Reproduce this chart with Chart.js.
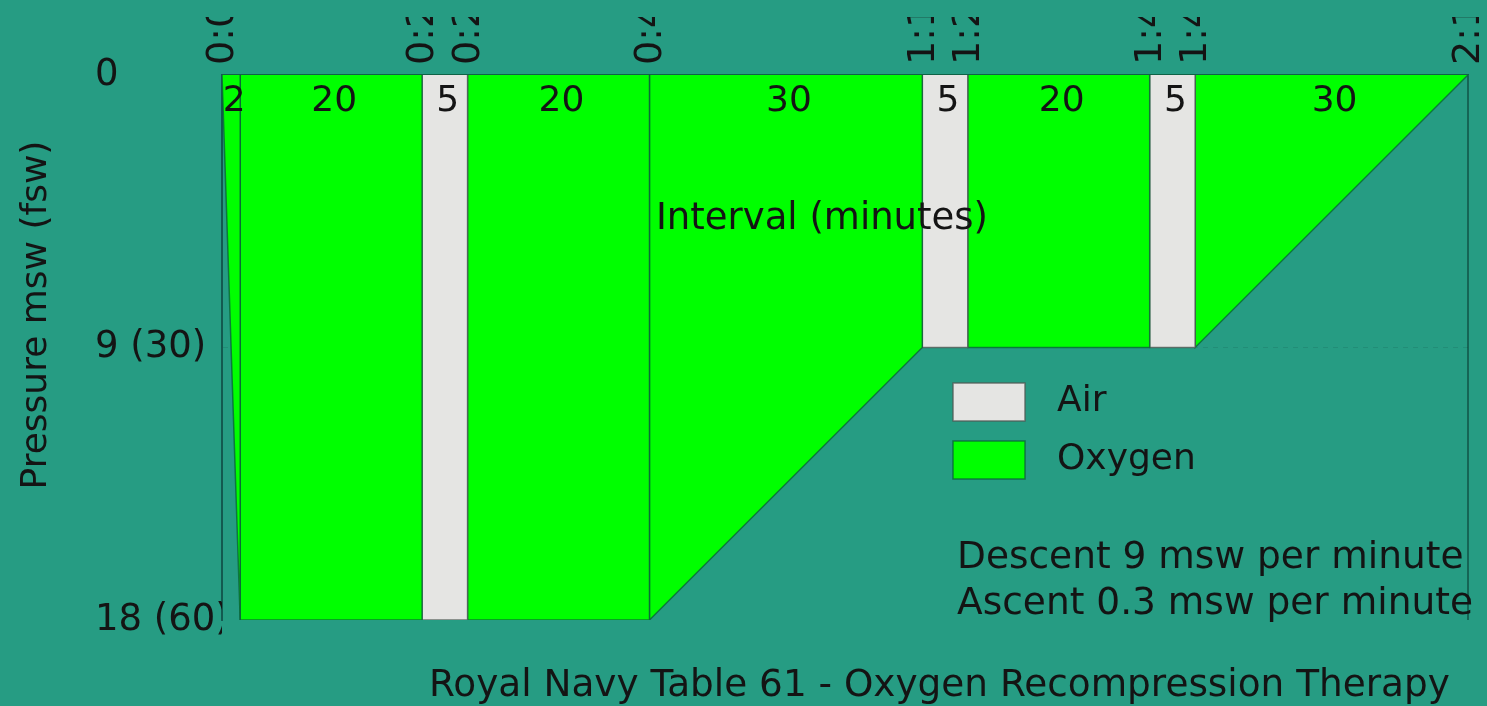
<!DOCTYPE html>
<html><head><meta charset="utf-8">
<script src="https://cdn.jsdelivr.net/npm/chart.js@4.4.1/dist/chart.umd.min.js"></script>
<style>
html,body{margin:0;padding:0;background:#269c83;overflow:hidden}
#wrap{position:absolute;left:0;top:0;width:1487px;height:706px;clip-path:inset(17px 0 0 0)}
canvas{display:block}
</style></head><body>
<div id="wrap"><canvas id="c" width="1487" height="706"></canvas></div>
<script>
// ---- data ----
const segmentStart = [0, 2, 22, 27, 47, 77, 82, 102, 107];
const segmentEnd   = [2, 22, 27, 47, 77, 82, 102, 107, 137];
const depthStart   = [0, 18, 18, 18, 18, 9, 9, 9, 9];
const depthEnd     = [18, 18, 18, 18, 9, 9, 9, 9, 0];
const segmentGas   = ['Oxygen','Oxygen','Air','Oxygen','Oxygen','Air','Oxygen','Air','Oxygen'];
const durationLabels = ['2','20','5','20','30','5','20','5','30'];
const timeTicks = [0, 22, 27, 47, 77, 82, 102, 107, 137];
const timeTickLabels = ['0:00','0:22','0:27','0:47','1:17','1:22','1:42','1:47','2:17'];
const depthTicks = [0, 9, 18];
const depthTickLabels = ['0', '9 (30)', '18 (60)'];
const gasNames = ['Air', 'Oxygen'];
const notes = ['Descent 9 msw per minute', 'Ascent 0.3 msw per minute'];
const yTitle = 'Pressure msw (fsw)';
const xTitle = 'Interval (minutes)';
const chartTitle = 'Royal Navy Table 61 - Oxygen Recompression Therapy';

// ---- styles ----
const FONT = 'DejaVu Sans';
const TXT = '#141414';
const gasFill = {Air: '#e5e5e3', Oxygen: '#00ff00'};
const gasBorder = {Air: 'rgba(80,90,85,0.8)', Oxygen: 'rgba(10,95,55,0.75)'};
const TICK_SIZE = 38;

const datasets = segmentStart.map((s, i) => ({
  label: segmentGas[i],
  data: [
    {x: s, y: 0},
    {x: s, y: depthStart[i]},
    {x: segmentEnd[i], y: depthEnd[i]},
    {x: segmentEnd[i], y: 0}
  ],
  fill: 'origin',
  backgroundColor: gasFill[segmentGas[i]],
  borderColor: gasBorder[segmentGas[i]],
  borderWidth: 1.5,
  pointRadius: 0,
  tension: 0
}));

const annotate = {
  id: 'annotate',
  afterDraw(chart) {
    const ctx = chart.ctx;
    const xs = chart.scales.x;
    const area = chart.chartArea;
    ctx.save();
    ctx.fillStyle = TXT;
    ctx.textBaseline = 'middle';
    ctx.font = '36px "' + FONT + '"';
    // y title
    ctx.save();
    ctx.translate(37, 315);
    ctx.rotate(-Math.PI / 2);
    ctx.textAlign = 'center';
    ctx.fillText(yTitle, 0, 0);
    ctx.restore();
    // durations
    ctx.textAlign = 'center';
    durationLabels.forEach((lab, i) => {
      const cx = (xs.getPixelForValue(segmentStart[i]) + xs.getPixelForValue(segmentEnd[i])) / 2 + 3;
      ctx.fillText(lab, cx, area.top + 27);
    });
    // legend
    const legendY = [402, 460];
    gasNames.forEach((g, i) => {
      ctx.fillStyle = gasFill[g];
      ctx.strokeStyle = gasBorder[g];
      ctx.lineWidth = 1.5;
      ctx.fillRect(953, legendY[i] - 19, 72, 38);
      ctx.strokeRect(953, legendY[i] - 19, 72, 38);
      ctx.fillStyle = TXT;
      ctx.textAlign = 'left';
      ctx.fillText(g, 1057, legendY[i]);
    });
    // interval title
    ctx.font = '37px "' + FONT + '"';
    ctx.textAlign = 'center';
    ctx.fillText(xTitle, 822, 219);
    // notes
    ctx.font = '37.5px "' + FONT + '"';
    ctx.textAlign = 'left';
    ctx.fillText(notes[0], 957, 558);
    ctx.fillText(notes[1], 957, 604);
    // title
    ctx.font = '37.4px "' + FONT + '"';
    ctx.fillText(chartTitle, 429, 686);
    ctx.restore();
  }
};

new Chart(document.getElementById('c'), {
  type: 'line',
  data: {datasets},
  options: {
    responsive: false,
    animation: false,
    devicePixelRatio: 1,
    layout: {padding: {left: 95, right: 19, top: 0, bottom: 86}},
    plugins: {legend: {display: false}, tooltip: {enabled: false}, title: {display: false}},
    scales: {
      x: {
        type: 'linear', position: 'top', min: 0, max: 137, z: 1,
        afterBuildTicks: s => { s.ticks = timeTicks.map(v => ({value: v})); },
        afterFit: s => { s.height = 75; s.paddingLeft = 0; s.paddingRight = 0; },
        ticks: {
          autoSkip: false, maxRotation: 90, minRotation: 90, padding: 10,
          labelOffset: Math.round(TICK_SIZE * 1.2) + 1,
          font: {family: FONT, size: TICK_SIZE}, color: TXT,
          callback: (v, i) => timeTickLabels[i]
        },
        grid: {
          drawTicks: false,
          lineWidth: 2,
          color: c => (c.index === 0 || c.index === timeTicks.length - 1) ? 'rgba(20,95,80,0.9)' : 'rgba(0,0,0,0)'
        },
        border: {display: true, color: 'rgba(10,85,55,0.8)', width: 1.5}
      },
      y: {
        type: 'linear', position: 'left', reverse: true, min: 0, max: 18, z: 1,
        afterBuildTicks: s => { s.ticks = depthTicks.map(v => ({value: v})); },
        afterFit: s => { s.width = 127; s.paddingTop = 0; s.paddingBottom = 0; },
        ticks: {
          crossAlign: 'far', padding: 0,
          font: {family: FONT, size: 37}, color: TXT,
          callback: (v, i) => depthTickLabels[i]
        },
        grid: {
          drawTicks: false, lineWidth: 1,
          color: c => c.index === 1 ? 'rgba(0,0,0,0.09)' : 'rgba(0,0,0,0)'
        },
        border: {display: true, color: 'rgba(20,90,80,0.95)', width: 2, dash: [5, 5]}
      }
    }
  },
  plugins: [annotate]
});
</script>
</body></html>
